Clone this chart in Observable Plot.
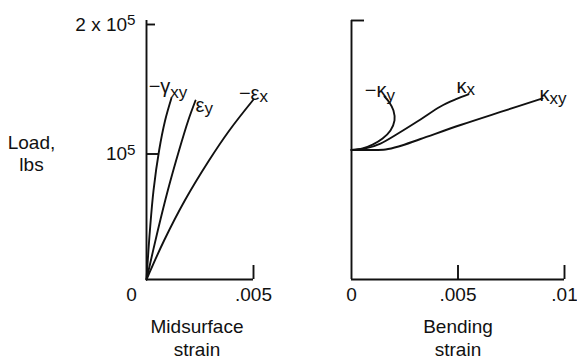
<!DOCTYPE html>
<html><head><meta charset="utf-8">
<script src="https://cdn.jsdelivr.net/npm/d3@7"></script>
<script src="https://cdn.jsdelivr.net/npm/@observablehq/plot@0.6"></script>
<style>
body{margin:0;background:#fff;}
#wrap{display:flex;width:577px;height:364px;}
#wrap svg{display:block;}
</style></head><body><div id="wrap"></div>
<script>
// ---- Midsurface strain panel (load in lbs) ----
const gammaXYStrain = [0, 0.000159, 0.000327, 0.000589, 0.000869, 0.00116];
const gammaXYLoad   = [0, 37800, 68700, 99600, 122800, 139800];
const epsYStrain = [0, 0.000528, 0.000995, 0.00152, 0.00195, 0.00229];
const epsYLoad   = [0, 37800, 68700, 99600, 122800, 138200];
const epsXStrain = [0, 0.000822, 0.00179, 0.00292, 0.00387, 0.005];
const epsXLoad   = [0, 30100, 61000, 91900, 115100, 139000];
// ---- Bending strain panel ----
const kapXYStrain = [0, 0.00089, 0.00160, 0.00221, 0.00324, 0.00512, 0.0070, 0.00897];
const kapXYLoad   = [100000, 100000, 100400, 102700, 108500, 119300, 129400, 139800];
const kapXStrain = [0, 0.00066, 0.00136, 0.0023, 0.00324, 0.00418, 0.00488, 0.00549];
const kapXLoad   = [100000, 101200, 105000, 113900, 123600, 133600, 139000, 142900];
const kapYStrain = [0, 0.00052, 0.00099, 0.00146, 0.00183, 0.00202, 0.00197, 0.00178, 0.00155];
const kapYLoad   = [100000, 101200, 104200, 108900, 115100, 122800, 130500, 136700, 141300];

// ---- ticks and texts ----
const loadTicks = [100000, 200000];
const loadTickLabels = ["10^5", "2 x 10^5"];
const midTicks = [0, 0.005];
const midTickLabels = ["0", ".005"];
const bendTicks = [0, 0.005, 0.01];
const bendTickLabels = ["0", ".005", ".01"];
const loadTitle = "Load,\nlbs";
const midTitle = "Midsurface\nstrain";
const bendTitle = "Bending\nstrain";
const midNames = ["−γ", "ε", "−ε"];
const midSubs = ["xy", "y", "x"];
const bendNames = ["−κ", "κ", "κ"];
const bendSubs = ["y", "x", "xy"];

const INK = "#111";
const FONT = "'Liberation Sans', Arial, Helvetica, sans-serif";
const LW = 1.9;

const pts = (xs, ys) => xs.map((x, i) => ({x, y: ys[i]}));
const curve = (xs, ys) => Plot.line(pts(xs, ys), {x: "x", y: "y", stroke: INK, strokeWidth: LW, curve: "catmull-rom"});
function tag(xs, ys, main, sub, ax, dyMain, dySub) {
  const end = pts(xs, ys).slice(-1);
  return [
    Plot.text(end, {x: "x", y: "y", text: () => main, textAnchor: "end", lineAnchor: "bottom", dx: ax, dy: dyMain, fontSize: 20, fill: INK}),
    Plot.text(end, {x: "x", y: "y", text: () => sub, textAnchor: "start", lineAnchor: "bottom", dx: ax, dy: dySub, fontSize: 17, fill: INK})
  ];
}
const fmt = (ticks, labels) => (d) => labels[ticks.indexOf(d)];

const left = Plot.plot({
  width: 290, height: 364,
  marginLeft: 146, marginRight: 37, marginTop: 20, marginBottom: 85,
  style: {fontFamily: FONT, fontSize: "19px", color: INK, background: "white"},
  x: {domain: [midTicks[0], midTicks[1]], label: null},
  y: {domain: [0, loadTicks[1]], label: null},
  marks: [
    Plot.ruleX([0], {stroke: INK, strokeWidth: LW}),
    Plot.ruleY([0], {stroke: INK, strokeWidth: LW}),
    Plot.axisY([loadTicks[1]], {tickSize: -9, tickPadding: 20, dy: 4, strokeWidth: LW, tickFormat: fmt(loadTicks, loadTickLabels), label: null}),
    Plot.axisY([loadTicks[0]], {tickSize: -12, tickPadding: 23, dy: 4, strokeWidth: LW, tickFormat: fmt(loadTicks, loadTickLabels), label: null}),
    Plot.axisX([midTicks[1]], {tickSize: -14, tickPadding: 22, strokeWidth: LW, tickFormat: fmt(midTicks, midTickLabels), label: null}),
    Plot.axisX([midTicks[0]], {tickSize: 0, tickPadding: 8, dx: -15, tickFormat: fmt(midTicks, midTickLabels), label: null}),
    curve(gammaXYStrain, gammaXYLoad),
    curve(epsYStrain, epsYLoad),
    curve(epsXStrain, epsXLoad),
    ...tag(gammaXYStrain, gammaXYLoad, midNames[0], midSubs[0], -1, -5, 0),
    ...tag(epsYStrain, epsYLoad, midNames[1], midSubs[1], 9, 11, 13),
    ...tag(epsXStrain, epsXLoad, midNames[2], midSubs[2], 6, 1, 3),
    Plot.text([loadTitle], {frameAnchor: "left", y: () => loadTicks[0], text: d => d, dx: -115, dy: 3, textAnchor: "middle", lineHeight: 1.16, fontSize: 19, fill: INK}),
    Plot.text([midTitle], {frameAnchor: "bottom", text: d => d, lineAnchor: "bottom", lineHeight: 1.16, dy: 76, dx: -3, fontSize: 19, fill: INK})
  ]
});

const right = Plot.plot({
  width: 287, height: 364,
  marginLeft: 61, marginRight: 13, marginTop: 20, marginBottom: 85,
  style: {fontFamily: FONT, fontSize: "19px", color: INK, background: "white"},
  x: {domain: [bendTicks[0], bendTicks[2]], label: null},
  y: {domain: [0, loadTicks[1]], label: null},
  marks: [
    Plot.ruleX([0], {stroke: INK, strokeWidth: LW}),
    Plot.ruleY([0], {stroke: INK, strokeWidth: LW}),
    Plot.axisY([loadTicks[1]], {tickSize: -13, tickPadding: 20, strokeWidth: LW, tickFormat: () => "", label: null}),
    Plot.axisX(bendTicks.slice(1), {tickSize: -14, tickPadding: 22, strokeWidth: LW, tickFormat: fmt(bendTicks, bendTickLabels), label: null}),
    Plot.axisX([bendTicks[0]], {tickSize: 0, tickPadding: 8, tickFormat: fmt(bendTicks, bendTickLabels), label: null}),
    curve(kapXYStrain, kapXYLoad),
    curve(kapXStrain, kapXLoad),
    curve(kapYStrain, kapYLoad),
    ...tag(kapYStrain, kapYLoad, bendNames[0], bendSubs[0], 2, 0.5, 4),
    ...tag(kapXStrain, kapXLoad, bendNames[1], bendSubs[1], -2, -1, 1),
    ...tag(kapXYStrain, kapXYLoad, bendNames[2], bendSubs[2], 7, 2.5, 5.5),
    Plot.text([bendTitle], {frameAnchor: "bottom", text: d => d, lineAnchor: "bottom", lineHeight: 1.16, dy: 76, fontSize: 19, fill: INK})
  ]
});

// superscript exponents in tick labels
for (const svg of [left, right]) {
  d3.select(svg).selectAll("text").each(function() {
    const t = this.textContent;
    if (t.includes("^")) {
      const [base, exp] = t.split("^");
      this.textContent = base;
      d3.select(this).append("tspan").attr("dy", "-0.35em").attr("font-size", "0.8em").text(exp);
    }
  });
}
document.getElementById("wrap").append(left, right);
</script>
</body></html>
